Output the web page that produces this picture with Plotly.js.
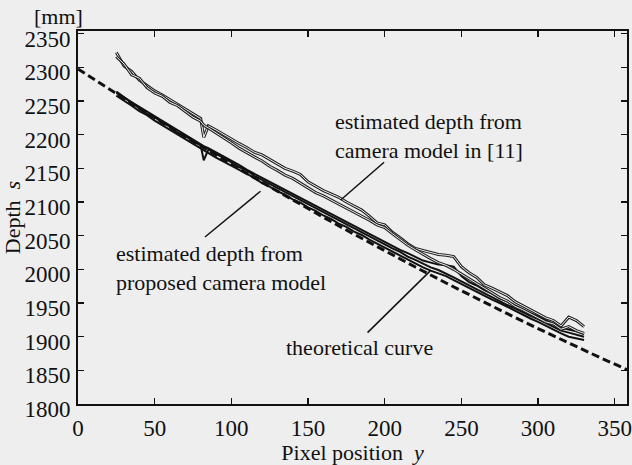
<!DOCTYPE html>
<html>
<head>
<meta charset="utf-8">
<script src="https://cdn.plot.ly/plotly-3.0.1.min.js"></script>
<style>html,body{margin:0;padding:0;background:#eeeeee;}</style>
</head>
<body>
<div id="chart" style="width:632px;height:465px;"></div>
<script>
// Pixel positions (x) for measured curves
const pixelPos = [25,30,35,40,45,50,55,60,65,70,75,80,82,85,90,95,100,105,110,115,120,125,130,135,140,145,150,155,160,165,170,175,180,185,190,195,200,205,210,215,220,225,230,235,240,245,250,255,260,265,270,275,280,285,290,295,300,305,310,315,320,325,330];

// Estimated depth from camera model in [11] (two runs)
const ref11RunA = [2322,2302,2294,2281,2273,2265,2259,2252,2246,2238,2231,2224,2196,2213,2207,2200,2194,2187,2181,2174,2170,2163,2156,2150,2146,2141,2130,2123,2117,2112,2107,2100,2094,2088,2079,2069,2066,2055,2047,2038,2031,2028,2025,2022,2021,2019,2004,1995,1988,1977,1972,1966,1961,1952,1946,1940,1934,1928,1924,1916,1929,1924,1915];
const ref11RunB = [2316,2305,2289,2284,2270,2262,2257,2248,2243,2235,2226,2220,2214,2210,2203,2195,2188,2180,2173,2167,2161,2153,2147,2140,2135,2128,2122,2114,2109,2103,2098,2092,2086,2080,2073,2066,2062,2053,2044,2036,2029,2022,2016,2010,2006,2000,1993,1986,1980,1972,1966,1958,1953,1945,1940,1934,1929,1922,1919,1911,1915,1909,1905];

// Estimated depth from proposed camera model (three runs)
const proposedRun1 = [2264,2256,2247,2240,2231,2226,2218,2212,2203,2198,2190,2184,2162,2178,2171,2166,2159,2152,2147,2139,2133,2127,2121,2114,2109,2102,2097,2090,2085,2078,2072,2067,2060,2055,2048,2043,2037,2031,2026,2019,2014,2008,2003,1999,1994,1988,1982,1976,1970,1964,1959,1953,1947,1942,1936,1931,1926,1920,1915,1909,1906,1903,1900];
const proposedRun2 = [2258,2251,2243,2235,2229,2221,2214,2207,2201,2193,2187,2180,2177,2173,2166,2160,2154,2148,2141,2136,2128,2123,2116,2111,2104,2099,2092,2087,2080,2075,2068,2063,2056,2051,2044,2038,2032,2027,2021,2014,2009,2003,1998,1994,1990,1984,1978,1973,1966,1961,1955,1950,1944,1939,1933,1927,1922,1916,1911,1905,1900,1897,1895];
const proposedRun3 = [2262,2255,2249,2241,2235,2227,2221,2213,2207,2199,2193,2186,2183,2180,2174,2167,2161,2155,2148,2142,2136,2131,2125,2118,2112,2106,2100,2094,2088,2082,2077,2070,2065,2058,2053,2046,2041,2035,2029,2024,2018,2013,2010,2007,2006,2004,1990,1981,1976,1969,1964,1957,1952,1946,1941,1935,1930,1925,1919,1913,1911,1908,1904];

// Theoretical curve
const theoryPos = [0,20,40,60,80,100,120,140,160,180,200,220,240,260,280,300,320,340,358];
const theoryDepth = [2297.5,2268.2,2239.3,2211.0,2183.3,2156.0,2129.3,2103.0,2077.3,2052.2,2027.5,2003.4,1979.7,1956.6,1934.1,1912.0,1890.5,1869.4,1851.0];

// Axis ticks
const xTicks = [0,50,100,150,200,250,300,350];
const yTicks = [1800,1850,1900,1950,2000,2050,2100,2150,2200,2250,2300,2350];

const serif = "Liberation Serif, Times New Roman, serif";
const bg = '#eeeeee';

const traces = [
  {x: theoryPos, y: theoryDepth, mode: 'lines', line: {color: '#111', width: 3, dash: '8px,4px'}, name: 'theoretical curve'},
  {x: pixelPos, y: proposedRun1, mode: 'lines', line: {color: '#111', width: 2}, name: 'proposed 1'},
  {x: pixelPos, y: proposedRun2, mode: 'lines', line: {color: '#111', width: 2}, name: 'proposed 2'},
  {x: pixelPos, y: proposedRun3, mode: 'lines', line: {color: '#111', width: 2}, name: 'proposed 3'},
  {x: pixelPos, y: ref11RunA, mode: 'lines', line: {color: '#222', width: 3}, name: '[11] A'},
  {x: pixelPos, y: ref11RunA, mode: 'lines', line: {color: bg, width: 1}, name: '[11] A inner'},
  {x: pixelPos, y: ref11RunB, mode: 'lines', line: {color: '#222', width: 3}, name: '[11] B'},
  {x: pixelPos, y: ref11RunB, mode: 'lines', line: {color: bg, width: 1}, name: '[11] B inner'}
];

const layout = {
  width: 632, height: 465,
  margin: {l: 78, r: 5, t: 31, b: 61},
  paper_bgcolor: bg, plot_bgcolor: bg,
  showlegend: false,
  font: {family: serif, size: 22, color: '#111'},
  xaxis: {
    range: [0, 358], tickvals: xTicks, ticks: 'inside', ticklen: 6, tickwidth: 1.5, tickcolor: '#111',
    showline: true, linecolor: '#111', linewidth: 2, mirror: 'ticks', showgrid: false, zeroline: false,
    tickfont: {family: serif, size: 23, color: '#111'}, ticklabelstandoff: 2,
    title: {text: 'Pixel position  <i>y</i>', font: {family: serif, size: 22, color: '#111'}, standoff: 0}
  },
  yaxis: {
    range: [1800, 2354], tickvals: yTicks, ticks: 'inside', ticklen: 6, tickwidth: 1.5, tickcolor: '#111',
    showline: true, linecolor: '#111', linewidth: 2, mirror: 'ticks', showgrid: false, zeroline: false,
    tickfont: {family: serif, size: 23, color: '#111'}, ticklabelshift: 5, ticklabelstandoff: 1,
    title: {text: 'Depth  <i>s</i>', font: {family: serif, size: 22, color: '#111'}, standoff: 0}
  },
  annotations: [
    {xref: 'paper', yref: 'paper', x: -0.036, y: 1.04, text: '[mm]', showarrow: false, xanchor: 'center', yanchor: 'middle', font: {family: serif, size: 22}},
    {x: 228.6, y: 2198, text: 'estimated depth from<br>camera model in [11]', showarrow: false, xanchor: 'center', yanchor: 'middle', align: 'left', font: {family: serif, size: 22}},
    {x: 23.7, y: 2002, text: 'estimated depth from<br>proposed camera model', showarrow: false, xanchor: 'left', yanchor: 'middle', align: 'left', font: {family: serif, size: 22}},
    {x: 183.5, y: 1884, text: 'theoretical curve', showarrow: false, xanchor: 'center', yanchor: 'middle', font: {family: serif, size: 22}}
  ],
  shapes: [
    {type: 'line', x0: 199.6, y0: 2159, x1: 171.3, y1: 2103, line: {color: '#111', width: 1.5}},
    {type: 'line', x0: 119, y0: 2116, x1: 82.8, y1: 2048, line: {color: '#111', width: 1.5}},
    {type: 'line', x0: 229.7, y0: 1997.7, x1: 188.8, y1: 1906, line: {color: '#111', width: 1.5}}
  ]
};

Plotly.newPlot('chart', traces, layout, {displayModeBar: false, staticPlot: true});
</script>
</body>
</html>
